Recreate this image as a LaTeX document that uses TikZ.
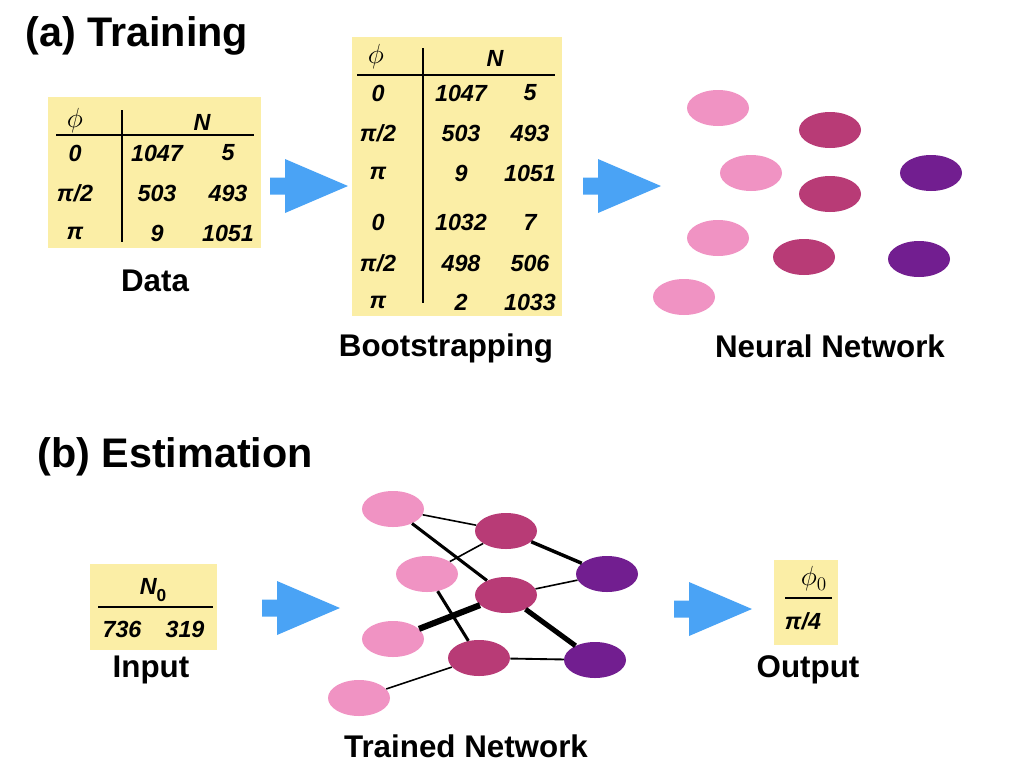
\documentclass[tikz,border=0pt]{standalone}
\usepackage{fontspec}
\setmainfont{Liberation Sans}
\usepackage{tikz}
\usetikzlibrary{positioning,shapes.geometric}
\definecolor{padyellow}{RGB}{251,238,166}
\definecolor{arrowblue}{RGB}{74,163,245}
\definecolor{inpink}{RGB}{240,147,195}
\definecolor{hidmag}{RGB}{184,59,118}
\definecolor{outpurp}{RGB}{114,30,144}
\tikzset{
  title/.style={font=\fontsize{31}{36}\selectfont\bfseries,anchor=base west,inner sep=0pt},
  lab/.style={font=\fontsize{23.5}{28}\selectfont\bfseries,inner sep=0pt},
  num/.style={font=\fontsize{17.5}{21}\selectfont\bfseries\itshape,inner sep=0pt},
  sym/.style={font=\fontsize{20}{24}\selectfont,inner sep=0pt},
  pad/.style={fill=padyellow},
  rule/.style={line width=1.4pt,black},
  neur/.style={ellipse,minimum width=46.5pt,minimum height=27pt,inner sep=0pt},
  inn/.style={neur,fill=inpink},
  hid/.style={neur,fill=hidmag},
  outn/.style={neur,fill=outpurp},
  thinw/.style={line width=1.2pt},
  midw/.style={line width=2.3pt},
  bigarrow/.pic={
    \fill[arrowblue] (0,-8.5) -- (15,-8.5) -- (15,-27) -- (78,0) -- (15,27) -- (15,8.5) -- (0,8.5) -- cycle;
  }
}
\begin{document}
\begin{tikzpicture}[x=0.75pt,y=-0.75pt]
  \useasboundingbox (0,0) rectangle (1024,768);
  \node[title] (ta) at (25,46) {(a) Training};
  \node[title] (tb) at (37,467) {(b) Estimation};

  \fill[pad] (48,97) rectangle (261,248);
  \draw[rule] (56,135) -- (254,135);
  \draw[rule] (122,110) -- (122,242);
  \node[sym] (dphi) at (75,121) {$\phi$};
  \node[num] (dN) at (202,122) {N};
  \foreach \y/\p/\a/\b [count=\i] in {153/0/1047/5, 193/{π/2}/503/493, 233/π/9/1051}{
    \node[num] (dp\i) at (75,\y) {\p};
    \node[num] (da\i) at (157,\y) {\a};
    \node[num] (db\i) at (228,\y) {\b};
  }
  \node[lab] (data) at (155,281) {Data};

  \pic at (270,186) {bigarrow};

  \fill[pad] (352,37) rectangle (562,316);
  \draw[rule] (357,75) -- (555,75);
  \draw[rule] (423,48) -- (423,303);
  \node[sym] (bphi) at (376,57) {$\phi$};
  \node[num] (bN) at (495,58) {N};
  \foreach \y/\p/\a/\b [count=\i] in {93/0/1047/5, 133/{π/2}/503/493, 173/π/9/1051,
      222/0/1032/7, 263/{π/2}/498/506, 302/π/2/1033}{
    \node[num] (bp\i) at (378,\y) {\p};
    \node[num] (ba\i) at (461,\y) {\a};
    \node[num] (bb\i) at (530,\y) {\b};
  }
  \node[lab] (boot) at (446,348) {Bootstrapping};

  \pic at (583,186) {bigarrow};

  \node[inn] (ai1) at (718,108) {};
  \node[inn] (ai2) at (751,173) {};
  \node[inn] (ai3) at (718,238) {};
  \node[inn] (ai4) at (684,297) {};
  \node[hid] (ah1) at (830,130) {};
  \node[hid] (ah2) at (830,194) {};
  \node[hid] (ah3) at (804,257) {};
  \node[outn] (ao1) at (931,173) {};
  \node[outn] (ao2) at (919,259) {};
  \node[lab] (nn) at (830,346) {Neural Network};

  \fill[pad] (90,564) rectangle (217,650);
  \draw[rule] (98,607) -- (213,607);
  \node[num] (iN) at (153,590) {N\raisebox{-.3em}{\fontsize{13}{15}\selectfont\upshape 0}};
  \node[num] (i1) at (122,629) {736};
  \node[num] (i2) at (185,629) {319};
  \node[lab] (input) at (151,670) {Input};

  \pic at (262,608) {bigarrow};

  \node[inn] (ti1) at (393,509) {};
  \node[inn] (ti2) at (427,574) {};
  \node[inn] (ti3) at (393,639) {};
  \node[inn] (ti4) at (359,698) {};
  \node[hid] (th1) at (506,531) {};
  \node[hid] (th2) at (506,595) {};
  \node[hid] (th3) at (479,658) {};
  \node[outn] (to1) at (607,574) {};
  \node[outn] (to2) at (595,660) {};
  \draw[thinw] (ti1) -- (th1);
  \draw[midw] (ti1) -- (th2);
  \draw[thinw] (ti2) -- (th1);
  \draw[midw] (ti2) -- (th3);
  \draw[line width=4.6pt] (ti3) -- (th2);
  \draw[thinw] (ti4) -- (th3);
  \draw[line width=2.6pt] (th1) -- (to1);
  \draw[thinw] (th2) -- (to1);
  \draw[line width=3.8pt] (th2) -- (to2);
  \draw[line width=1.4pt] (th3) -- (to2);
  \node[lab] (trained) at (466,746) {Trained Network};

  \pic at (674,609) {bigarrow};

  \fill[pad] (774,560) rectangle (838,645);
  \draw[rule] (785,598) -- (832,598);
  \node[sym] (ophi) at (814,579) {$\phi_0$};
  \node[num] (oval) at (803,621) {π/4};
  \node[lab] (output) at (808,670) {Output};
\end{tikzpicture}
\end{document}
